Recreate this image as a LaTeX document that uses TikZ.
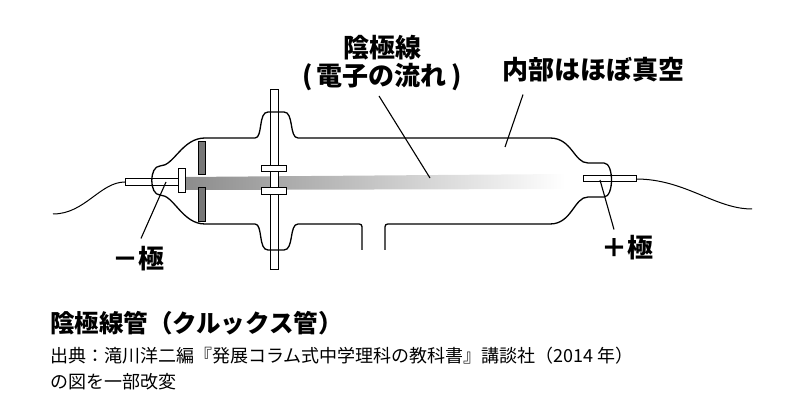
\documentclass[tikz,border=0pt]{standalone}
\usepackage{fontspec}
\setmainfont{Noto Sans CJK JP}
\usetikzlibrary{positioning}
\definecolor{bargray}{HTML}{777777}

\begin{document}
\begin{tikzpicture}[
        x=1pt, y=-1pt,
        glass/.style={line width=1.3pt, line join=round},
        part/.style={draw=black, fill=white, line width=1pt},
        lead/.style={line width=1.1pt},
        label/.style={font=\fontsize{26}{28}\selectfont\bfseries, align=center, inner sep=0pt}
    ]
        \useasboundingbox (0,0) rectangle (800,419);

        % electron beam
        \shade[left color=black!45, right color=white] (185,177) -- (565,174) -- (565,189) -- (185,190) -- cycle;

        % grids and electrodes
        \fill[bargray, draw=black, line width=.6pt] (198,141) rectangle (205,174);
        \fill[bargray, draw=black, line width=.6pt] (198,187) rectangle (205,221);
        \draw[part] (270,90) rectangle (278,270);
        \draw[part] (261,166) rectangle (286,172);
        \draw[part] (261,188) rectangle (286,195);
        \draw[part] (125,179) rectangle (178,186);
        \draw[part] (178,169) rectangle (185,193);
        \draw[part] (583,176) rectangle (636,182);

        % glass tube
        \draw[glass] (362,250) -- (362,230) .. controls (362,224) .. (356,224) -- (298,224)
            .. controls (289,224) and (294,250) .. (284,250) -- (268,250)
            .. controls (258,250) and (263,224) .. (255,224) -- (205,224)
            .. controls (182,224) and (174,195) .. (160,195)
            .. controls (149,195) and (149,166) .. (160,166)
            .. controls (174,166) and (182,138) .. (205,138) -- (255,138)
            .. controls (263,138) and (258,112) .. (268,112) -- (284,112)
            .. controls (294,112) and (289,138) .. (298,138) -- (550,138)
            .. controls (572,138) and (574,163) .. (588,163) -- (604,163)
            .. controls (614,163) and (614,197) .. (604,197) -- (588,197)
            .. controls (574,197) and (572,224) .. (550,224) -- (391,224)
            .. controls (385,224) .. (385,230) -- (385,250);

        % wires
        \draw[line width=1pt] (125,182) .. controls (100,182) and (85,214) .. (53,214);
        \draw[line width=1pt] (636,179) .. controls (685,179) and (715,209) .. (752,209);

        % labels
        \node[label] (beam) at (382,63) {陰極線\\(\,電子の流れ\,)};
        \node[label] (vacuum) at (593,70) {内部はほぼ真空};
        \node[label] (minus) at (138,259) {－極};
        \node[label] (plus) at (627,248) {＋極};
        \coordinate (beamend) at (430,178);
        \coordinate (vacend) at (505,147);
        \coordinate (minusend) at (166,182);
        \coordinate (plusend) at (600,180);
        \draw[lead] (379,96) -- (beamend);
        \draw[lead] (vacuum.south) ++(-70,12) -- (vacend);
        \draw[lead] (minus.north) ++(3,-8) -- (minusend);
        \draw[lead] (plus.north) ++(-13,-6) -- (plusend);

        % caption
        \node[font=\fontsize{24.5}{26}\selectfont\bfseries, anchor=west, inner sep=0pt] (title) at (50,323) {陰極線管（クルックス管）};
        \node[font=\fontsize{18}{20}\selectfont, anchor=west, inner sep=0pt] (source) at (50,356) {出典：滝川洋二編『発展コラム式中学理科の教科書』講談社（2014 年）};
        \node[font=\fontsize{18}{20}\selectfont, anchor=west, inner sep=0pt] (note) at (50,382) {の図を一部改変};
    \end{tikzpicture}
\end{document}
